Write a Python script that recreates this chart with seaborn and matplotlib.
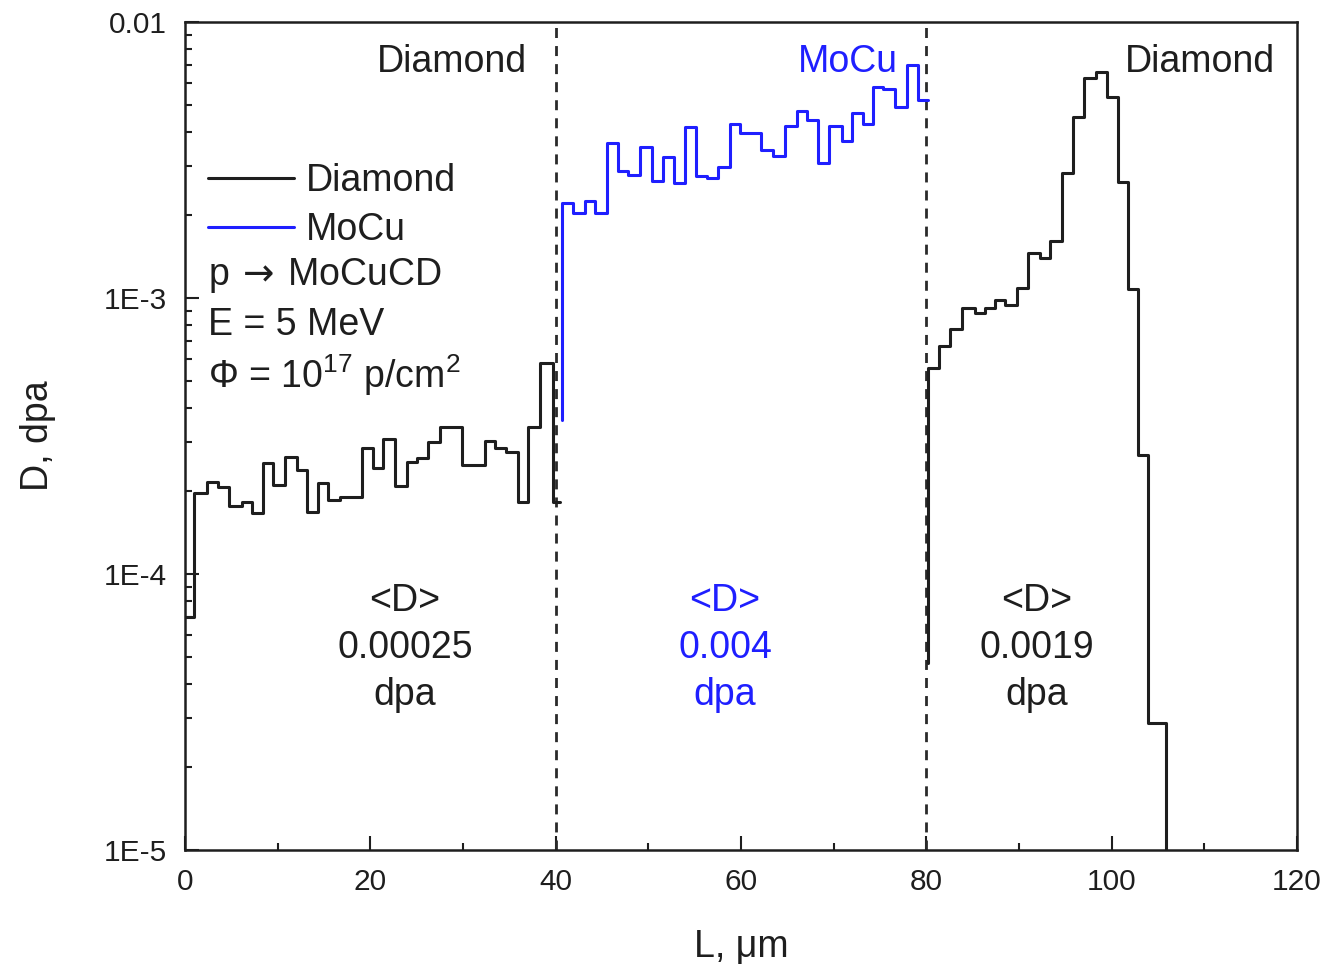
import matplotlib
matplotlib.use("Agg")
import matplotlib.pyplot as plt
import seaborn as sns
import numpy as np

# depth L (um) bin edges and damage D (dpa) per bin
diam1_L = [0, 0.97, 2.37, 3.56, 4.75, 6.15, 7.23, 8.42, 9.50, 10.79, 12.09, 13.17,
           14.35, 15.43, 16.73, 17.91, 19.10, 20.29, 21.37, 22.66, 23.96, 25.04,
           26.22, 27.52, 28.71, 29.89, 31.08, 32.37, 33.45, 34.64, 35.94, 37.01,
           38.31, 39.71, 40.47]
diam1_D = [7.0e-5, 1.97e-4, 2.15e-4, 2.07e-4, 1.76e-4, 1.82e-4, 1.66e-4, 2.52e-4,
           2.10e-4, 2.65e-4, 2.38e-4, 1.68e-4, 2.14e-4, 1.85e-4, 1.90e-4, 1.90e-4,
           2.86e-4, 2.42e-4, 3.08e-4, 2.08e-4, 2.55e-4, 2.63e-4, 3.01e-4, 3.41e-4,
           3.41e-4, 2.48e-4, 2.48e-4, 3.03e-4, 2.86e-4, 2.77e-4, 1.82e-4, 3.41e-4,
           5.82e-4, 1.82e-4]

mocu_start = 3.61e-4
mocu_L = [40.74, 41.87, 43.17, 44.24, 45.54, 46.73, 47.81, 49.10, 50.40, 51.58,
          52.77, 53.96, 55.14, 56.33, 57.52, 58.81, 59.89, 61.08, 62.16, 63.45,
          64.75, 66.04, 67.12, 68.31, 69.50, 70.90, 71.98, 73.17, 74.24, 75.32,
          76.62, 77.91, 79.10, 80.18]
mocu_D = [2.21e-3, 2.03e-3, 2.25e-3, 2.03e-3, 3.64e-3, 2.88e-3, 2.79e-3, 3.52e-3,
          2.65e-3, 3.24e-3, 2.61e-3, 4.16e-3, 2.77e-3, 2.72e-3, 2.98e-3, 4.27e-3,
          3.96e-3, 3.96e-3, 3.44e-3, 3.27e-3, 4.20e-3, 4.76e-3, 4.42e-3, 3.08e-3,
          4.20e-3, 3.71e-3, 4.68e-3, 4.27e-3, 5.82e-3, 5.72e-3, 4.92e-3, 6.99e-3,
          5.22e-3]

diam2_start = 4.76e-5
diam2_end = 5e-6
diam2_L = [80.18, 81.37, 82.55, 83.85, 85.25, 86.33, 87.41, 88.49, 89.78, 90.97,
           92.27, 93.34, 94.64, 95.83, 97.01, 98.31, 99.50, 100.68, 101.76,
           102.84, 103.92, 105.86]
diam2_D = [5.58e-4, 6.70e-4, 7.72e-4, 9.20e-4, 8.82e-4, 9.20e-4, 9.83e-4, 9.43e-4,
           1.087e-3, 1.455e-3, 1.396e-3, 1.609e-3, 2.837e-3, 4.527e-3, 6.27e-3,
           6.59e-3, 5.35e-3, 2.63e-3, 1.078e-3, 2.70e-4, 2.88e-5]

boundaries = [40, 80]
yticks = [1e-5, 1e-4, 1e-3, 1e-2]
ytick_labels = ["1E-5", "1E-4", "1E-3", "0.01"]
xticks = [0, 20, 40, 60, 80, 100, 120]
mean_D = ["0.00025", "0.004", "0.0019"]

black = "#1e1e1e"
blue = "#1f1fff"

sns.set_style("ticks")
plt.rcParams["font.family"] = ["Liberation Sans", "DejaVu Sans"]
plt.rcParams["mathtext.fontset"] = "custom"
plt.rcParams["mathtext.rm"] = "Liberation Sans"

fig, ax = plt.subplots(figsize=(13.24, 9.64), dpi=100)
fig.subplots_adjust(left=0.1397, right=0.9796, top=0.9772, bottom=0.1183)
ax.set_yscale("log")

step = dict(estimator=None, sort=False, drawstyle="steps-post", linewidth=2.2, ax=ax)
sns.lineplot(x=diam1_L, y=diam1_D + [diam1_D[-1]], color=black, **step)
sns.lineplot(x=[mocu_L[0]] + mocu_L, y=[mocu_start] + mocu_D + [mocu_D[-1]],
             color=blue, **step)
sns.lineplot(x=[diam2_L[0]] + diam2_L, y=[diam2_start] + diam2_D + [diam2_end],
             color=black, **step)

for b in boundaries:
    ax.axvline(b, color="#2a2a2a", lw=2.0, ls=(0, (3.6, 2.9)), zorder=1)

ax.set_xlim(0, 120)
ax.set_ylim(1e-5, 1e-2)
ax.set_xticks(xticks)
ax.set_xticks(np.arange(10, 120, 20), minor=True)
ax.set_yticks(yticks, ytick_labels)
ax.tick_params(which="both", direction="in", width=1.5, labelsize=21.5, pad=13,
               colors=black)
ax.tick_params(which="major", length=10)
ax.tick_params(which="minor", length=5)
for s in ax.spines.values():
    s.set_linewidth(1.8)
    s.set_color(black)

ax.set_xlabel("L, μm", fontsize=27, labelpad=24, color=black)
ax.set_ylabel("D, dpa", fontsize=27, labelpad=34, color=black)

lines = ax.get_lines()
ax.legend([lines[0], lines[1]], ["Diamond", "MoCu"], loc="upper left",
          bbox_to_anchor=(0.0207, 0.830), frameon=False, fontsize=27,
          handlelength=2.3, handletextpad=0.3, labelspacing=0.36,
          borderpad=0, borderaxespad=0, labelcolor=black)

txt = dict(transform=ax.transAxes, fontsize=27, color=black, va="baseline")
ax.text(0.0207, 0.682, r"p$\,\rightarrow\,$MoCuCD", math_fontfamily="dejavusans", **txt)
ax.text(0.0207, 0.622, "E = 5 MeV", **txt)
ax.text(0.0207, 0.558, r"Φ = 10$^{\mathrm{17}}$ p/cm$^{\mathrm{2}}$", **txt)

ax.text(0.240, 0.9396, "Diamond", ha="center", **txt)
ax.text(0.913, 0.9396, "Diamond", ha="center", **txt)
ax.text(0.596, 0.9396, "MoCu", ha="center", transform=ax.transAxes,
        fontsize=27, color=blue, va="baseline")

for xc, val, col in zip([0.1978, 0.4856, 0.7662], mean_D, [black, blue, black]):
    ax.text(xc, 0.244, "<D>\n" + val + "\ndpa", transform=ax.transAxes,
            ha="center", va="center", fontsize=27, color=col, linespacing=1.4)

fig.savefig("out.png", dpi=100)
